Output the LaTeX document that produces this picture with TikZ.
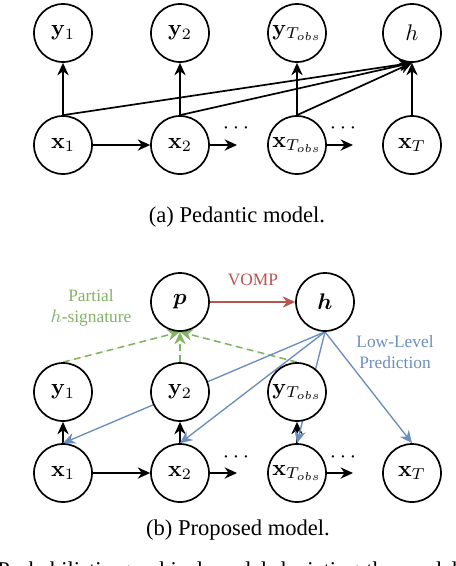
\documentclass[tikz,border=0pt]{standalone}
\usepackage[no-math]{fontspec}
\setmainfont{Liberation Serif}
\usepackage{amsmath,bm}
\usetikzlibrary{arrows.meta}
\pgfdeclarelayer{bg}
\pgfsetlayers{bg,main}
\definecolor{vred}{HTML}{B85450}
\definecolor{vgreen}{HTML}{82B366}
\definecolor{vblue}{HTML}{6C8EBF}
\begin{document}
\begin{tikzpicture}[x=0.443pt,y=-0.443pt,
  var/.style={circle,draw,line width=0.75pt,fill=white,minimum size=25.7pt,inner sep=0pt,font=\fontsize{10}{12}\selectfont},
  arr/.style={-{Stealth[length=5.5pt,width=5pt]},line width=0.75pt},
  redarr/.style={arr,draw=vred,line width=0.7pt},
  grnarr/.style={arr,draw=vgreen,fill=vgreen,dashed,dash pattern=on 3pt off 2pt,line width=0.7pt},
  bluarr/.style={-{Stealth[length=5.5pt,width=5pt]},draw=vblue,line width=0.6pt},
  lbl/.style={font=\fontsize{7.7}{9.3}\selectfont,align=center,inner sep=0pt},
  captext/.style={font=\fontsize{10}{12}\selectfont,inner sep=0pt}]
\useasboundingbox (0,0) rectangle (456,566);
\clip (0,0) rectangle (456,566);

% ---------- (a) Pedantic model ----------
\node[var] (ay1) at (63,33) {$\mathbf{y}_1$};
\node[var] (ay2) at (180,33) {$\mathbf{y}_2$};
\node[var] (ayT) at (297,33) {$\mathbf{y}_{T_{obs}}$};
\node[var] (ah) at (412,33) {$h$};
\node[var] (ax1) at (63,145) {$\mathbf{x}_1$};
\node[var] (ax2) at (180,145) {$\mathbf{x}_2$};
\node[var] (axT) at (297,145) {$\mathbf{x}_{T_{obs}}$};
\node[var] (axTT) at (412,145) {$\mathbf{x}_T$};
\node[inner sep=0pt] (adots1) at (238,128) {$\cdots$};
\node[inner sep=0pt] (adots2) at (345,128) {$\cdots$};
\coordinate (aend1) at (237,145);
\coordinate (aend2) at (353,145);
\node[captext] (capa) at (237,217) {(a) Pedantic model.};

\begin{pgfonlayer}{bg}
\draw[arr] (ax1) -- (ay1);
\draw[arr] (ax2) -- (ay2);
\draw[arr] (axT) -- (ayT);
\draw[arr] (axTT) -- (ah);
\draw[arr] (ax1.north) -- (ah.south);
\draw[arr] (ax2.north) -- (ah.south);
\draw[arr] (axT.north) -- (ah.south);
\draw[arr] (ax1) -- (ax2);
\draw[arr] (ax2) -- (aend1);
\draw[arr] (axT) -- (aend2);
\end{pgfonlayer}

% ---------- (b) Proposed model ----------
\node[var] (bp) at (180,302) {$\bm{p}$};
\node[var] (bh) at (325,302) {$\bm{h}$};
\node[var] (by1) at (63,392) {$\mathbf{y}_1$};
\node[var] (by2) at (180,392) {$\mathbf{y}_2$};
\node[var] (byT) at (297,392) {$\mathbf{y}_{T_{obs}}$};
\node[var] (bx1) at (63,473) {$\mathbf{x}_1$};
\node[var] (bx2) at (180,473) {$\mathbf{x}_2$};
\node[var] (bxT) at (297,473) {$\mathbf{x}_{T_{obs}}$};
\node[var] (bxTT) at (412,473) {$\mathbf{x}_T$};
\node[inner sep=0pt] (bdots1) at (238,457) {$\cdots$};
\node[inner sep=0pt] (bdots2) at (345,457) {$\cdots$};
\coordinate (bend1) at (237,473);
\coordinate (bend2) at (353,473);
\node[lbl,text=vred] (vomp) at (253,280) {VOMP};
\node[lbl,text=vgreen] (partial) at (91,308) {Partial\\$h$-signature};
\node[lbl,text=vblue] (llp) at (395,352) {Low-Level\\Prediction};
\node[captext] (capb) at (238,530) {(b) Proposed model.};
\node[anchor=base west,inner sep=0pt] (bottom) at (-3,577)
  {\fontsize{10}{12}\selectfont\makebox[204pt][s]{Probabilistic graphical model depicting the model}};

\begin{pgfonlayer}{bg}
\draw[arr] (bx1) -- (by1);
\draw[arr] (bx2) -- (by2);
\draw[arr] (bxT) -- (byT);
\draw[arr] (bx1) -- (bx2);
\draw[arr] (bx2) -- (bend1);
\draw[arr] (bxT) -- (bend2);
\draw[redarr] (bp) -- (bh);
\draw[grnarr] (by1.north) -- (bp.south);
\draw[grnarr] (by2.north) -- (bp.south);
\draw[grnarr] (byT.north) -- (bp.south);
\draw[bluarr] (bh.south) -- (bx1.north);
\draw[bluarr] (bh.south) -- (bx2.north);
\draw[bluarr] (bh.south) -- (bxT.north);
\draw[bluarr] (bh.south) -- (bxTT.north);
\end{pgfonlayer}
\end{tikzpicture}
\end{document}
